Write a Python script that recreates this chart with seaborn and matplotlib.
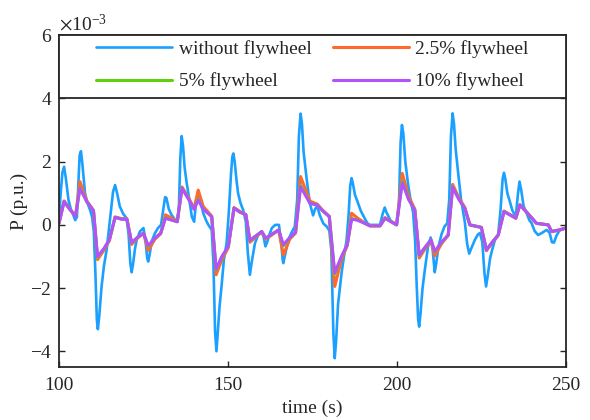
import numpy as np
import pandas as pd
import matplotlib
matplotlib.use("Agg")
import matplotlib.pyplot as plt
from matplotlib.patches import Rectangle
from matplotlib.ticker import ScalarFormatter
import seaborn as sns

# Power deviation (in units of 1e-3 p.u.) versus time (s)
t_base = [100.0, 100.5, 101.0, 101.5, 102.0, 102.8, 103.5, 104.2, 104.8, 105.3,
          105.8, 106.1, 106.5, 106.9, 107.7, 108.4, 109.2, 109.8, 110.3, 110.8,
          111.2, 111.5, 111.9, 112.6, 113.3, 114.1, 114.8, 115.4, 116.0, 116.6,
          117.2, 118.0, 119.0, 120.0, 120.6, 121.1, 121.5, 121.9, 122.5, 123.0,
          124.0, 125.0, 125.6, 126.1, 126.4, 126.8, 127.5, 128.4, 129.3, 130.2,
          130.9, 131.4, 131.8, 132.5, 133.3, 134.2, 135.1, 135.5, 135.9, 136.3,
          136.7, 137.2, 137.8, 138.5, 139.3, 140.0, 140.6, 141.2, 141.7, 142.7,
          143.5, 144.2, 145.2, 145.7, 146.2, 146.6, 147.0, 147.5, 148.1, 148.8,
          149.6, 150.2, 150.9, 151.3, 151.6, 152.0, 152.5, 153.0, 153.7, 154.5,
          155.3, 155.9, 156.5, 157.0, 158.0, 159.0, 160.0, 160.6, 161.1, 161.6,
          162.3, 163.0, 164.0, 165.1, 165.8, 166.2, 166.4, 166.8, 167.9, 168.8,
          169.8, 170.5, 171.0, 171.5, 171.9, 172.4, 173.3, 174.2, 175.2, 175.8,
          176.4, 177.2, 178.2, 179.2, 180.0, 180.6, 181.2, 181.6, 182.0, 182.6,
          183.6, 184.4, 185.1, 185.7, 186.2, 186.6, 187.0, 187.6, 188.3, 189.3,
          190.5, 191.3, 192.0, 195.0, 195.8, 196.4, 196.9, 198.2, 200.0, 200.6,
          201.1, 201.5, 201.9, 202.5, 203.4, 204.2, 204.8, 205.4, 205.9, 206.3,
          206.6, 207.0, 207.6, 208.3, 209.2, 210.0, 210.6, 211.2, 211.6, 212.3,
          213.2, 214.1, 214.9, 215.5, 216.0, 216.5, 216.9, 217.4, 218.1, 219.0,
          220.1, 220.8, 221.4, 222.0, 223.1, 224.0, 224.6, 225.3, 225.9, 226.4,
          226.9, 227.6, 228.3, 229.1, 230.0, 230.7, 231.3, 231.7, 232.1, 232.7,
          233.3, 234.2, 235.2, 235.8, 236.3, 236.8, 237.5, 238.4, 239.2, 239.9,
          240.8, 241.8, 243.0, 244.3, 245.2, 245.9, 246.5, 247.2, 248.2, 249.2,
          250.0]
p_base = [0.16, 1.0, 1.65, 1.84, 1.5, 0.79, 0.5, 0.32, 0.15, 0.25,
          1.5, 2.2, 2.33, 1.95, 1.0, 0.7, 0.47, 0.25, -0.2, -1.6,
          -3.0, -3.3, -2.9, -1.95, -1.3, -0.79, -0.1, 0.47, 1.05, 1.26,
          1.0, 0.58, 0.35, 0.21, -0.3, -1.2, -1.5, -1.25, -0.75, -0.47,
          -0.2, -0.1, -0.5, -1.05, -1.16, -0.95, -0.5, -0.26, -0.1, 0.0,
          0.5, 0.88, 0.85, 0.5, 0.32, 0.18, 0.1, 0.6, 2.1, 2.81,
          2.5, 1.8, 1.32, 0.85, 0.26, 0.1, 0.75, 1.08, 0.8, 0.37,
          0.15, 0.0, -0.16, -1.2, -3.4, -4.0, -3.4, -2.6, -1.95, -1.1,
          -0.58, 0.3, 1.6, 2.15, 2.26, 2.0, 1.45, 1.0, 0.7, 0.47,
          0.1, -0.9, -1.58, -1.2, -0.58, -0.3, -0.21, -0.4, -0.68, -0.55,
          -0.3, -0.1, 0.0, 0.0, -0.6, -1.1, -1.21, -1.0, -0.47, -0.25,
          -0.05, 0.8, 2.8, 3.52, 3.2, 2.3, 1.45, 0.7, 0.3, 0.5,
          0.6, 0.3, 0.05, -0.05, -0.18, -0.8, -3.4, -4.22, -3.7, -2.5,
          -1.55, -0.95, -0.5, 0.3, 1.25, 1.48, 1.3, 0.95, 0.75, 0.45,
          0.2, 0.05, 0.0, 0.0, 0.35, 0.55, 0.4, 0.12, 0.02, 0.6,
          2.6, 3.16, 2.9, 2.0, 1.21, 0.7, 0.4, -0.5, -2.0, -3.0,
          -3.22, -2.8, -2.0, -1.4, -0.7, -0.4, -0.8, -1.5, -1.25, -0.7,
          -0.3, -0.05, 0.05, 0.8, 2.8, 3.53, 3.2, 2.4, 1.68, 0.8,
          0.1, -0.6, -0.91, -0.75, -0.47, -0.3, -0.26, -0.55, -1.5, -1.95,
          -1.6, -1.05, -0.75, -0.45, -0.3, 0.5, 1.45, 1.65, 1.45, 1.0,
          0.79, 0.45, 0.26, 0.95, 1.37, 1.1, 0.6, 0.37, 0.15, 0.05,
          -0.2, -0.32, -0.25, -0.16, -0.25, -0.55, -0.56, -0.35, -0.16, -0.12,
          -0.1]

t_fw = [100.0, 101.5, 103.2, 104.9, 106.2, 108.2, 110.2, 111.4, 113.3, 114.9,
        116.6, 118.5, 120.1, 121.5, 123.2, 125.0, 126.4, 128.4, 130.1, 131.5,
        135.0, 136.4, 138.4, 140.0, 141.2, 142.7, 145.2, 146.5, 148.2, 150.1,
        151.8, 153.6, 155.3, 156.5, 160.0, 161.2, 165.0, 166.4, 168.3, 170.0,
        171.5, 174.3, 176.4, 178.0, 180.0, 181.6, 183.6, 185.3, 186.6, 188.3,
        190.5, 192.0, 195.0, 196.5, 199.9, 201.6, 203.5, 205.3, 206.6, 208.4,
        210.1, 211.2, 213.2, 215.2, 216.5, 218.4, 220.1, 221.6, 225.0, 226.5,
        228.2, 230.0, 231.7, 233.4, 235.2, 236.4, 238.4, 241.3, 244.8, 245.8,
        248.2, 250.0]
p_fw25 = [0.05, 0.76, 0.5, 0.29, 1.37, 0.76, 0.46, -1.1, -0.8, -0.5,
          0.25, 0.2, 0.19, -0.62, -0.42, -0.27, -0.81, -0.45, -0.28, 0.32,
          0.12, 1.2, 0.85, 0.52, 1.1, 0.58, 0.28, -1.58, -1.1, -0.72,
          0.55, 0.42, 0.33, -0.55, -0.22, -0.45, -0.17, -0.95, -0.45, -0.26,
          1.53, 0.75, 0.66, 0.47, 0.27, -1.95, -1.1, -0.66, 0.37, 0.22,
          0.06, -0.03, -0.03, 0.23, 0.0, 1.63, 0.9, 0.5, -1.05, -0.75,
          -0.5, -0.98, -0.6, -0.33, 1.28, 0.85, 0.55, 0.0, -0.08, -0.82,
          -0.57, -0.33, 0.44, 0.33, 0.22, 0.64, 0.41, 0.05, 0.0, -0.21,
          -0.16, -0.1]
p_fw5 = [0.05, 0.74, 0.49, 0.28, 1.18, 0.74, 0.45, -1.02, -0.76, -0.48,
         0.24, 0.18, 0.18, -0.57, -0.4, -0.26, -0.68, -0.42, -0.26, 0.22,
         0.1, 1.17, 0.81, 0.5, 0.82, 0.5, 0.26, -1.42, -1.02, -0.69,
         0.53, 0.4, 0.32, -0.5, -0.21, -0.42, -0.16, -0.66, -0.41, -0.24,
         1.25, 0.69, 0.63, 0.45, 0.26, -1.56, -1.02, -0.64, 0.2, 0.16,
         0.05, -0.03, -0.03, 0.21, 0.0, 1.38, 0.81, 0.47, -0.96, -0.71,
         -0.47, -0.85, -0.56, -0.32, 1.2, 0.8, 0.53, 0.0, -0.08, -0.79,
         -0.55, -0.32, 0.42, 0.32, 0.21, 0.63, 0.4, 0.05, 0.0, -0.21,
         -0.16, -0.1]
p_fw10 = [0.05, 0.74, 0.49, 0.28, 1.16, 0.74, 0.45, -1.0, -0.75, -0.47,
          0.24, 0.18, 0.18, -0.56, -0.4, -0.26, -0.66, -0.42, -0.26, 0.21,
          0.1, 1.16, 0.8, 0.49, 0.79, 0.5, 0.26, -1.4, -1.0, -0.68,
          0.53, 0.4, 0.32, -0.49, -0.21, -0.42, -0.16, -0.63, -0.4, -0.24,
          1.21, 0.68, 0.63, 0.45, 0.26, -1.52, -1.0, -0.63, 0.18, 0.15,
          0.05, -0.03, -0.03, 0.21, 0.0, 1.34, 0.8, 0.47, -0.95, -0.7,
          -0.47, -0.84, -0.55, -0.32, 1.19, 0.8, 0.53, 0.0, -0.08, -0.79,
          -0.55, -0.32, 0.42, 0.32, 0.21, 0.63, 0.4, 0.05, 0.0, -0.21,
          -0.16, -0.1]

labels = ["without flywheel", "2.5% flywheel", "5% flywheel", "10% flywheel"]
colors = ["#1CA0FF", "#FF6A2B", "#5ED10F", "#B550FF"]
SCALE = 1e-3

frames = []
for lab, tt, pp in zip(labels, [t_base, t_fw, t_fw, t_fw],
                       [p_base, p_fw25, p_fw5, p_fw10]):
    frames.append(pd.DataFrame({"time": tt,
                                "P": np.asarray(pp) * SCALE,
                                "case": lab}))
df = pd.concat(frames, ignore_index=True)

sns.set_theme(style="white")
plt.rcParams["font.family"] = ["Liberation Serif", "DejaVu Serif"]
plt.rcParams["mathtext.fontset"] = "stix"
plt.rcParams["axes.unicode_minus"] = False

fig = plt.figure(figsize=(5.9, 4.2), dpi=100)
ax = fig.add_axes([0.1, 0.126, 0.859, 0.790])

sns.lineplot(data=df, x="time", y="P", hue="case", hue_order=labels,
             palette=dict(zip(labels, colors)), estimator=None, sort=False,
             legend=False, ax=ax, linewidth=1.9)
for line in ax.get_lines()[1:]:
    line.set_linewidth(2.2)
for line in ax.get_lines():
    line.set_solid_joinstyle("round")

ax.set_xlim(100, 250)
ax.set_ylim(-4.5 * SCALE, 6 * SCALE)
ax.set_xticks([100, 150, 200, 250])
ax.set_yticks(np.array([-4, -2, 0, 2, 4, 6]) * SCALE)

fmt = ScalarFormatter(useMathText=True)
fmt.set_powerlimits((-2, 2))
ax.yaxis.set_major_formatter(fmt)
ax.yaxis.get_offset_text().set_fontsize(14)

spine_col = "#262626"
for s in ax.spines.values():
    s.set_color(spine_col)
    s.set_linewidth(1.3)
ax.tick_params(axis="both", which="major", direction="in", length=4,
               width=1.0, color=spine_col, labelsize=14, labelcolor="#262626",
               left=True, right=True, bottom=True, top=False)
ax.tick_params(axis="x", pad=7)
ax.tick_params(axis="y", pad=5)

ax.set_xlabel("time (s)", fontsize=14, color="#262626", labelpad=4)
ax.set_ylabel("P (p.u.)", fontsize=14, color="#262626", labelpad=1)

# legend panel occupying the top band of the axes
trans = ax.get_yaxis_transform()
ax.add_patch(Rectangle((0, 4 * SCALE), 1, 2 * SCALE, transform=trans,
                       facecolor="white", edgecolor=spine_col, linewidth=1.3,
                       zorder=4, clip_on=False))
lines = ax.get_lines()
order = [0, 2, 1, 3]  # row-wise reading: without | 2.5% / 5% | 10%
leg = ax.legend([lines[i] for i in order], [labels[i] for i in order],
                ncol=2, mode="expand", frameon=False,
                loc="center", bbox_to_anchor=(0, 8.6 / 10.5, 1, 1.9 / 10.5),
                borderaxespad=0, borderpad=1.9, handlelength=3.9,
                handletextpad=0.35, labelspacing=0.75, fontsize=14)
leg.set_zorder(5)
for txt in leg.get_texts():
    txt.set_color("#262626")

fig.savefig("out.png", dpi=100)
